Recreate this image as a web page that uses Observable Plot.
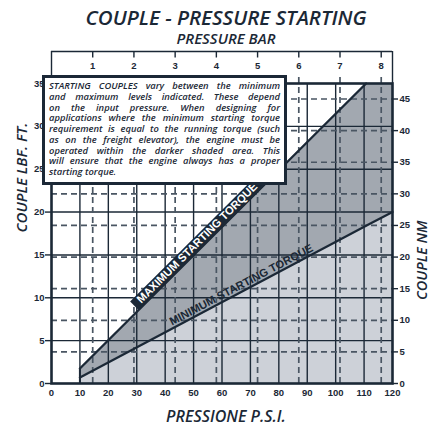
<!DOCTYPE html>
<html>
<head>
<meta charset="utf-8">
<script src="https://cdn.jsdelivr.net/npm/d3@7"></script>
<script src="https://cdn.jsdelivr.net/npm/@observablehq/plot@0.6"></script>
<style>
  body { margin: 0; background: #fff; }
  #wrap { position: relative; width: 431px; height: 428px; }
  #note {
    position: absolute; left: 42px; top: 75px; width: 245px; height: 110px;
    box-sizing: border-box; border: 3px solid #1b2836; background: #fff;
    padding: 3px 4px 0 4px; color: #1b2836;
    font-family: "Open Sans", sans-serif; font-style: italic; font-weight: 600;
    font-size: 9.4px; line-height: 10.75px;
  }
  #note div { text-align: justify; text-align-last: justify; }
  #note div.last { text-align: left; text-align-last: left; }
</style>
</head>
<body>
<div id="wrap"></div>
<script>
// ---- data ----
const psiTicks = [0, 10, 20, 30, 40, 50, 60, 70, 80, 90, 100, 110, 120];
const lbfTicks = [0, 5, 10, 15, 20, 25, 30, 35];
const nmTicks = [0, 5, 10, 15, 20, 25, 30, 35, 40, 45];
const barTicks = [1, 2, 3, 4, 5, 6, 7, 8];
const PSI_PER_BAR = 14.5038;
const NM_PER_LBF = 1.35582;

const pressurePsi = [10, 110.7, 120];
const maxTorqueLbf = [1.75, 35, 35];
const minTorqueLbf = [0.7, 18.4, 20];

const titleText = "COUPLE - PRESSURE STARTING";
const subtitleText = "PRESSURE BAR";
const xLabel = "PRESSIONE P.S.I.";
const yLabel = "COUPLE LBF. FT.";
const y2Label = "COUPLE NM";
const maxLabel = "MAXIMUM STARTING TORQUE";
const minLabel = "MINIMUM STARTING TORQUE";
const noteLines = [
  "STARTING COUPLES vary between the minimum",
  "and maximum levels indicated. These depend",
  "on the input pressure. When designing for",
  "applications where the minimum starting torque",
  "requirement is equal to the running torque (such",
  "as on the freight elevator), the engine must be",
  "operated within the darker shaded area. This",
  "will ensure that the engine always has a proper",
  "starting torque."
];

// ---- layout ----
const W = 431, H = 428;
const mT = 83, mB = 45, mL = 51, mR = 39;
const xDom = [0, 120], yDom = [0, 35];
const xpu = (W - mL - mR) / (xDom[1] - xDom[0]);
const ypu = (H - mT - mB) / (yDom[1] - yDom[0]);
const pxX = px => px / xpu;   // pixel length -> data units
const pxY = px => px / ypu;

const ink = "#1b2836";
const dashInk = "#4a5663";
const lightFill = "#cdd1d8";
const darkFill = "#a2a8b0";

const rows = pressurePsi.map((p, i) => ({p, max: maxTorqueLbf[i], min: minTorqueLbf[i]}));

// positions along the lines for labels
function along(x0, y0, x1, y1, t) { return [x0 + (x1 - x0) * t, y0 + (y1 - y0) * t]; }
const onMax = t => along(pressurePsi[0], maxTorqueLbf[0], pressurePsi[1], maxTorqueLbf[1], t);
const onMin = t => along(pressurePsi[0], minTorqueLbf[0], pressurePsi[2], minTorqueLbf[2], t);
const maxA = onMax(0.205), maxB = onMax(0.648), maxM = onMax(0.425);
const minM = onMin(0.526);
const maxAng = Math.atan2((maxTorqueLbf[1] - maxTorqueLbf[0]) * ypu, (pressurePsi[1] - pressurePsi[0]) * xpu) * 180 / Math.PI;
const minAng = Math.atan2((minTorqueLbf[2] - minTorqueLbf[0]) * ypu, (pressurePsi[2] - pressurePsi[0]) * xpu) * 180 / Math.PI;

const rad = Math.PI / 180;
const bandOff = 6.2, maxOff = 6.2, minOff = 6.4;
const bdx = -Math.sin(maxAng * rad) * bandOff, bdy = -Math.cos(maxAng * rad) * bandOff;
const mdx = -Math.sin(maxAng * rad) * maxOff, mdy = -Math.cos(maxAng * rad) * maxOff;
const ndx = -Math.sin(minAng * rad) * minOff, ndy = -Math.cos(minAng * rad) * minOff;

const yTopBox = yDom[1] + pxY(32);
const yTopTickEnd = yDom[1] + pxY(25.5);
const yDashTop = yDom[1] + pxY(10);
const barPsi = barTicks.map(b => b * PSI_PER_BAR);

const tickFont = {fontFamily: "Liberation Sans, Arial, sans-serif", fontWeight: "bold", fontSize: 9.5, fill: ink};
const labelFont = {fontFamily: "Open Sans, sans-serif", fontStyle: "italic", fontWeight: 600, fill: ink};
const lineLabelFont = {fontFamily: "Liberation Sans, Arial, sans-serif", fontWeight: "bold", fontSize: 11.2};

const chart = Plot.plot({
  width: W, height: H,
  marginTop: mT, marginBottom: mB, marginLeft: mL, marginRight: mR,
  x: {domain: xDom, axis: null},
  y: {domain: yDom, axis: null},
  style: {background: "white", overflow: "visible"},
  marks: [
    Plot.areaY(rows, {x: "p", y1: 0, y2: "min", fill: lightFill}),
    Plot.areaY(rows, {x: "p", y1: "min", y2: "max", fill: darkFill}),
    // solid grid
    Plot.ruleX(psiTicks.filter(d => d > xDom[0] && d < xDom[1]), {stroke: ink, strokeWidth: 1.4}),
    Plot.ruleY(lbfTicks.filter(d => d > yDom[0] && d < yDom[1]), {stroke: ink, strokeWidth: 1.4}),
    // dashed grid (bar / Nm)
    Plot.ruleX(barPsi, {y1: 0, y2: yDashTop, stroke: dashInk, strokeWidth: 1.7, strokeDasharray: "6,4"}),
    Plot.ruleY(nmTicks.filter(n => n > 0).map(n => n / NM_PER_LBF), {x1: xDom[0], x2: xDom[1], stroke: dashInk, strokeWidth: 1.7, strokeDasharray: "6,4"}),
    // torque lines
    Plot.line(rows, {x: "p", y: "min", stroke: ink, strokeWidth: 2.3}),
    Plot.line(rows.slice(0, 2), {x: "p", y: "max", stroke: ink, strokeWidth: 2.3}),
    Plot.ruleX([pressurePsi[0]], {y1: 0, y2: maxTorqueLbf[0], stroke: ink, strokeWidth: 2}),
    // max label band
    Plot.link([0], {x1: () => maxA[0], y1: () => maxA[1], x2: () => maxB[0], y2: () => maxB[1], dx: bdx, dy: bdy, stroke: ink, strokeWidth: 11.5, strokeLinecap: "butt"}),
    Plot.text([maxLabel], {x: () => maxM[0], y: () => maxM[1], text: d => d, dx: mdx, dy: mdy, rotate: -maxAng, fill: "white", ...lineLabelFont}),
    Plot.text([minLabel], {x: () => minM[0], y: () => minM[1], text: d => d, dx: ndx, dy: ndy, rotate: -minAng, fill: ink, ...lineLabelFont}),
    // frame
    Plot.frame({stroke: ink, strokeWidth: 2.6}),
    // top (bar) axis box
    Plot.ruleY([yTopBox], {x1: xDom[0], x2: xDom[1], stroke: ink, strokeWidth: 1.4}),
    Plot.ruleX([xDom[0], xDom[1]], {y1: yDom[1], y2: yTopBox, stroke: ink, strokeWidth: 1.4}),
    Plot.ruleX(barPsi, {y1: yTopBox, y2: yTopTickEnd, stroke: ink, strokeWidth: 1.4}),
    Plot.text(barTicks, {x: d => d * PSI_PER_BAR, y: yDom[1], dy: -15, lineAnchor: "bottom", text: d => String(d), ...tickFont}),
    // left axis (lbf.ft)
    Plot.ruleY(lbfTicks, {x1: xDom[0] - pxX(6), x2: xDom[0], stroke: ink, strokeWidth: 1.4}),
    Plot.text(lbfTicks, {x: xDom[0], y: d => d, dx: -7, textAnchor: "end", text: d => String(d), ...tickFont}),
    // right axis (Nm)
    Plot.ruleY(nmTicks.map(n => n / NM_PER_LBF), {x1: xDom[1], x2: xDom[1] + pxX(6), stroke: ink, strokeWidth: 1.4}),
    Plot.text(nmTicks, {x: xDom[1], y: d => d / NM_PER_LBF, dx: 7, textAnchor: "start", text: d => String(d), ...tickFont}),
    // bottom axis (psi)
    Plot.text(psiTicks, {x: d => d, y: yDom[0], dy: 9, text: d => String(d), ...tickFont}),
    // titles and axis labels
    Plot.text([titleText], {frameAnchor: "top", dx: 4, dy: -59, lineAnchor: "bottom", text: d => d, ...labelFont, fontSize: 20.5}),
    Plot.text([subtitleText], {frameAnchor: "top", dx: 4, dy: -40, lineAnchor: "bottom", text: d => d, ...labelFont, fontSize: 15}),
    Plot.text([xLabel], {frameAnchor: "bottom", dx: 4, dy: 38, lineAnchor: "bottom", text: d => d, ...labelFont, fontSize: 16}),
    Plot.text([yLabel], {frameAnchor: "left", dx: -25, dy: -1, rotate: -90, lineAnchor: "bottom", text: d => d, ...labelFont, fontSize: 15}),
    Plot.text([y2Label], {frameAnchor: "right", dx: 34, dy: -13, rotate: -90, lineAnchor: "bottom", text: d => d, ...labelFont, fontSize: 14.5})
  ]
});

const wrap = document.getElementById("wrap");
wrap.appendChild(chart);
const note = document.createElement("div");
note.id = "note";
noteLines.forEach((line, i) => {
  const d = document.createElement("div");
  d.textContent = line;
  if (i === noteLines.length - 1) d.className = "last";
  note.appendChild(d);
});
wrap.appendChild(note);
</script>
</body>
</html>
